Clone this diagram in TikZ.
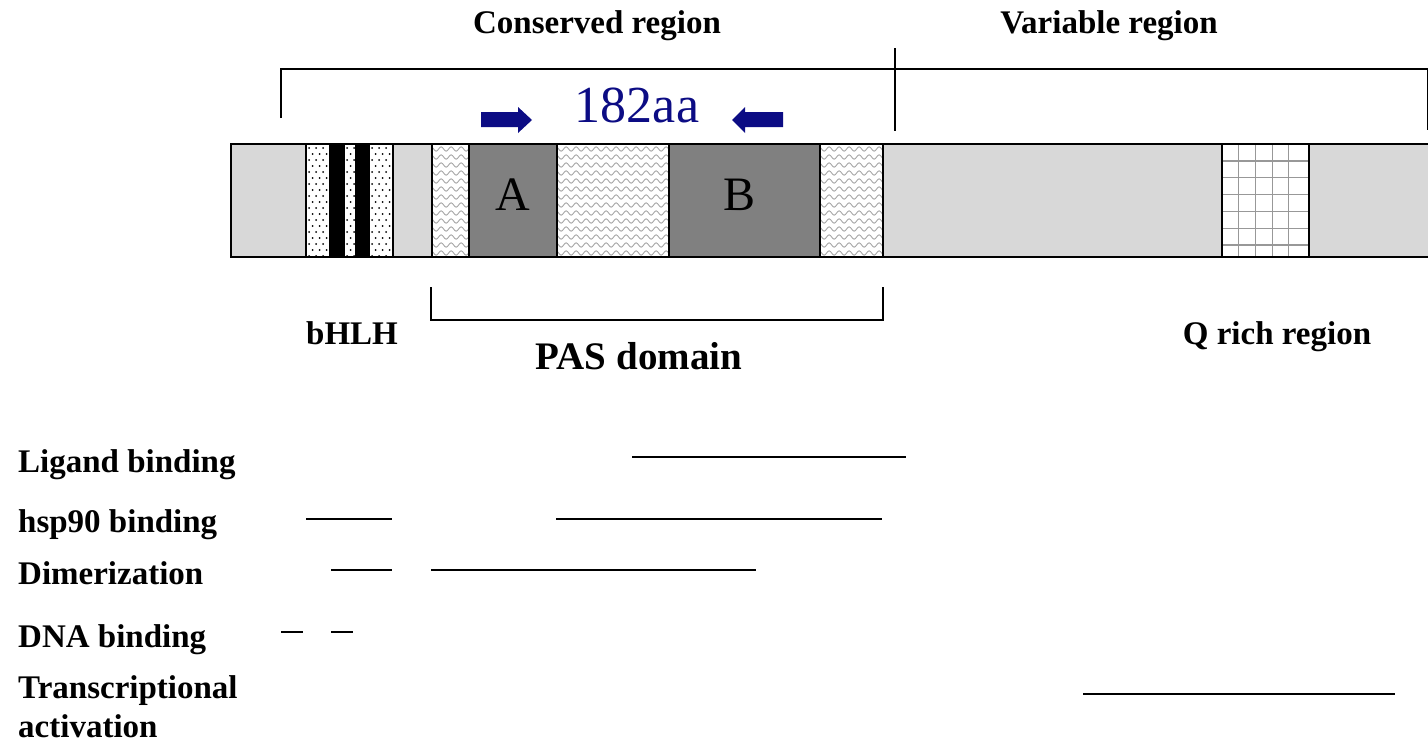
\documentclass[tikz,border=0pt]{standalone}
\usepackage{fontspec}
\setmainfont{Liberation Serif}
\usetikzlibrary{decorations.pathmorphing}
\definecolor{lgrey}{HTML}{D8D8D8}
\definecolor{dgrey}{HTML}{808080}
\definecolor{wavec}{HTML}{A8A8A8}
\definecolor{gridc}{HTML}{989898}
\definecolor{navy}{HTML}{0C0C84}
\begin{document}
\begin{tikzpicture}[x=1pt,y=-1pt,
  lbl/.style={font=\fontsize{33}{39}\selectfont\bfseries, inner sep=0pt},
  divider/.style={draw=black, line width=1.4pt},
  rangeline/.style={line width=1.6pt},
  brk/.style={line width=1.4pt},
  wave/.style={wavec, line width=0.9pt, decorate, decoration={snake, segment length=10pt, amplitude=2.2pt}},
  arrowfill/.style={fill=navy}]
\useasboundingbox (0,0) rectangle (1428,744);
\fill[white] (0,0) rectangle (1428,744);

% ---- main bar ----
\fill[lgrey] (231,144) rectangle (1430,257);
% dotted segments
\foreach \xa/\xb in {306/330, 344/356, 369/393}{
  \fill[white] (\xa,144) rectangle (\xb,257);
  \begin{scope}
    \clip (\xa,144) rectangle (\xb,257);
    \foreach \j in {0,...,19}{
      \foreach \i in {0,...,4}{
        \fill ({\xa+3+\i*7+mod(\j,2)*3.5},{148+\j*6}) circle (1.0);
      }
    }
  \end{scope}
}
% black stripes
\fill[black] (330,144) rectangle (344,257);
\fill[black] (356,144) rectangle (369,257);
% wavy segments
\foreach \xa/\xb in {432/469, 557/669, 820/883}{
  \fill[white] (\xa,144) rectangle (\xb,257);
  \begin{scope}
    \clip (\xa,145) rectangle (\xb,256);
    \foreach \j in {0,...,14}{
      \draw[wave] ({\xa-4},{149+\j*8}) -- ({\xb+10},{149+\j*8});
    }
  \end{scope}
}
% dark boxes
\fill[dgrey] (469,144) rectangle (557,257);
\fill[dgrey] (669,144) rectangle (820,257);
% grid segment
\fill[white] (1222,144) rectangle (1309,257);
\begin{scope}
  \clip (1222,144) rectangle (1309,257);
  \foreach \k in {1,...,4}{
    \draw[gridc, line width=1.1pt] ({1222+\k*16.7},144) -- ({1222+\k*16.7},257);
  }
  \foreach \k in {0,...,5}{
    \draw[gridc, line width=1.1pt] (1222,{161+\k*16.8}) -- (1309,{161+\k*16.8});
  }
\end{scope}
% outlines and dividers
\draw[divider] (1430,144) -- (231,144) -- (231,257) -- (1430,257);
\foreach \x in {306,330,344,356,369,393,432,469,557,669,820,883,1222,1309}{
  \draw[divider] (\x,144) -- (\x,257);
}

% ---- box letters ----
\node[anchor=base, inner sep=0pt, font=\fontsize{48}{48}\selectfont] (A) at (513,210) {A};
\node[anchor=base, inner sep=0pt, font=\fontsize{48}{48}\selectfont] (B) at (740,210) {B};

% ---- 182aa and arrows ----
\node[anchor=base, inner sep=0pt, font=\fontsize{52}{52}\selectfont, text=navy] (aa) at (637,122) {182aa};
\fill[arrowfill] (481,112) -- (518,112) -- (518,107) -- (532,120) -- (518,133) -- (518,127) -- (481,127) -- cycle;
\fill[arrowfill] (783,112) -- (745,112) -- (745,107) -- (732,120) -- (745,133) -- (745,127) -- (783,127) -- cycle;

% ---- top brackets ----
\draw[brk] (281,118) -- (281,69) -- (1430,69);
\draw[brk] (895,48) -- (895,131);
\draw[brk] (1427.5,69) -- (1427.5,130);
\node[lbl, anchor=base] (cons) at (597,33) {Conserved region};
\node[lbl, anchor=base] (var) at (1109,33) {Variable region};

% ---- PAS bracket and labels ----
\draw[brk] (431,287) -- (431,320) -- (883,320) -- (883,287);
\node[lbl, anchor=base] (bhlh) at (352,344) {bHLH};
\node[lbl, anchor=base, font=\fontsize{39}{45}\selectfont\bfseries] (pas) at (639,369) {PAS domain};
\node[lbl, anchor=base] (qrich) at (1277,344) {Q rich region};

% ---- function labels ----
\node[lbl, anchor=base west] (lig) at (18,472) {Ligand binding};
\node[lbl, anchor=base west] (hsp) at (18,532) {hsp90 binding};
\node[lbl, anchor=base west] (dim) at (18,584) {Dimerization};
\node[lbl, anchor=base west] (dna) at (18,647) {DNA binding};
\node[lbl, anchor=base west] (tra) at (18,698) {Transcriptional};
\node[lbl, anchor=base west] (act) at (18,737) {activation};

% ---- ranges ----
\draw[rangeline] (632,457) -- (906,457);
\draw[rangeline] (306,519) -- (392,519);
\draw[rangeline] (556,519) -- (882,519);
\draw[rangeline] (331,570) -- (392,570);
\draw[rangeline] (431,570) -- (756,570);
\draw[rangeline] (281,632) -- (303,632);
\draw[rangeline] (331,632) -- (353,632);
\draw[rangeline] (1083,694) -- (1395,694);
\end{tikzpicture}
\end{document}
